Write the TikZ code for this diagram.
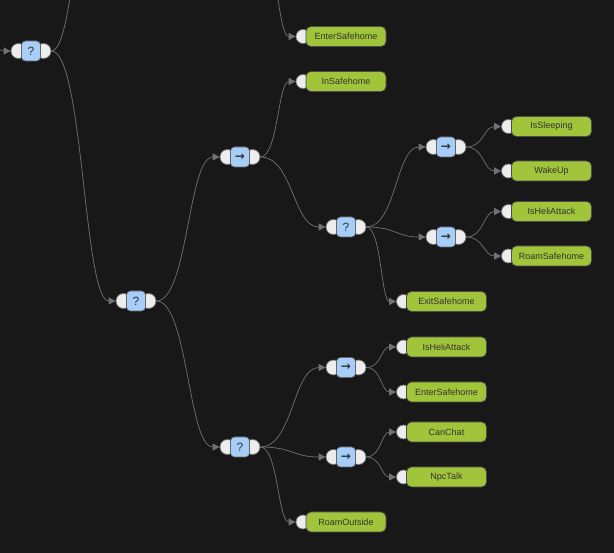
\documentclass[tikz,border=0pt]{standalone}
\usepackage{fontspec}
\setmainfont{Liberation Sans}
\newfontfamily\symfont{DejaVu Sans}
\usetikzlibrary{arrows.meta,calc}

\definecolor{canvas}{HTML}{181818}
\definecolor{wire}{HTML}{727272}
\definecolor{portfill}{HTML}{EDEDED}
\definecolor{composite}{HTML}{A6CEF8}
\definecolor{action}{HTML}{A0C43A}
\definecolor{ink}{HTML}{333333}
\newcommand\seqmark{{\symfont\bfseries →}}

\begin{document}
\begin{tikzpicture}[
  x=1pt, y=-1pt,
  >={Triangle[length=7pt,width=7pt]},
  every node/.style={font=\fontsize{9}{10}\selectfont, text=ink},
  port/.style={circle, draw=black!55, fill=portfill, line width=0.7pt,
               inner sep=0pt, minimum size=15pt},
  leafport/.style={port, minimum size=14pt},
  ctrl/.style={draw=black!60, fill=composite, rounded corners=4pt, line width=0.7pt,
               minimum width=19pt, minimum height=20pt, inner sep=0pt,
               font=\fontsize{12}{12}\selectfont},
  leaf/.style={draw=black!70, fill=action, rounded corners=5pt, line width=0.7pt,
               minimum width=80pt, minimum height=20pt, inner sep=0pt},
  link/.style={draw=wire, line width=0.7pt, ->,
               to path={let \p1=(\tikztostart), \p2=(\tikztotarget),
                 \p3=($(\tikztostart)!0.5!(\tikztotarget)$) in
                 .. controls (\x3,\y1) and (\x3,\y2) .. (\tikztotarget)}},
]
\fill[canvas] (0,0) rectangle (614,553);
\useasboundingbox (0,0) rectangle (614,553);
\clip (0,0) rectangle (614,553);

% selectors and sequences
\foreach \name/\cx/\cy/\mark in {rootsel/31/51/?, mainsel/136/301/?,
    homeseq/240/157/\seqmark, homesel/346/227/?, sleepseq/446/147/\seqmark,
    heliseq/446/237/\seqmark, outsel/240/447/?, guardseq/346/367.5/\seqmark,
    chatseq/346/457/\seqmark} {
  \node[port] (\name-in) at (\cx-12.5,\cy) {};
  \node[port] (\name-out) at (\cx+12.5,\cy) {};
  \node[ctrl] (\name) at (\cx,\cy) {\mark};
}

% actions and conditions
\foreach \name/\lx/\ly/\label in {enterhome/346/36.5/EnterSafehome,
    inhome/346/81.5/InSafehome, sleeping/551.5/126.5/IsSleeping,
    wakeup/551.5/171/WakeUp, heliattack/551.5/211.5/IsHeliAttack,
    roamhome/551.5/256/RoamSafehome, exithome/446.5/301.5/ExitSafehome,
    heliattack2/446.5/347/IsHeliAttack, enterhome2/446.5/392/EnterSafehome,
    canchat/446.5/432/CanChat, npctalk/446.5/477/NpcTalk,
    roamout/346/522/RoamOutside} {
  \node[leafport] (\name-in) at (\lx-43,\ly) {};
  \node[leaf] (\name) at (\lx,\ly) {\label};
}

\foreach \a/\b in {rootsel/mainsel, mainsel/homeseq, mainsel/outsel,
    homeseq/inhome, homeseq/homesel, homesel/sleepseq, homesel/heliseq,
    homesel/exithome, sleepseq/sleeping, sleepseq/wakeup, heliseq/heliattack,
    heliseq/roamhome, outsel/guardseq, outsel/chatseq, outsel/roamout,
    guardseq/heliattack2, guardseq/enterhome2, chatseq/canchat, chatseq/npctalk}
  \draw[link] (\a-out.east) to (\b-in.west);

% links that leave the visible part
\coordinate (rootparent) at (-50,-60);
\coordinate (upperchild) at (116,-314);
\coordinate (upperseq) at (260,-50);
\draw[link] (rootparent) to (rootsel-in.west);
\draw[link] (rootsel-out.east) to (upperchild);
\draw[link] (upperseq) to (enterhome-in.west);
\end{tikzpicture}
\end{document}
